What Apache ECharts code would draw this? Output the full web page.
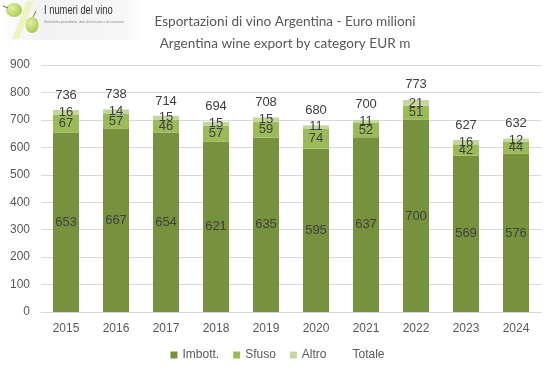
<!DOCTYPE html>
<html><head><meta charset="utf-8">
<script src="https://cdn.jsdelivr.net/npm/echarts@6/dist/echarts.min.js"></script>
<style>html,body{margin:0;padding:0;background:#fff}#c{width:555px;height:378px}</style>
</head><body><div id="c"></div>
<script>
const categories = ['2015','2016','2017','2018','2019','2020','2021','2022','2023','2024'];
const imbott = [653,667,654,621,635,595,637,700,569,576];
const sfuso  = [67,57,46,57,59,74,52,51,42,44];
const altro  = [16,14,15,15,15,11,11,21,16,12];
const totale = [736,738,714,694,708,680,700,773,627,632];
const yTicks = {min:0, max:900, interval:100};

const txt = '#404040', axisTxt = '#595959', font = 'Liberation Sans';
const chart = echarts.init(document.getElementById('c'));
function barSeries(name, data, color){
  return {name, type:'bar', stack:'s', data, barWidth:26, itemStyle:{color},
    label:{show:true, position:'inside', color:txt, fontSize:13, fontFamily:font}};
}
chart.setOption({
  animation:false,
  textStyle:{fontFamily:font},
  title:{text:'Esportazioni di vino Argentina - Euro milioni\nArgentina wine export by category EUR m',
    left:280, textAlign:'center', top:6,
    textStyle:{fontSize:13.6, fontWeight:'normal', color:axisTxt, fontFamily:'Lato', lineHeight:22}},
  legend:{bottom:12, left:'center', itemWidth:7, itemHeight:7, itemGap:14,
    textStyle:{color:axisTxt, fontSize:12, fontFamily:font},
    data:[{name:'Imbott.', icon:'rect'},{name:'Sfuso', icon:'rect'},{name:'Altro', icon:'rect'},{name:'Totale', icon:'none'}]},
  grid:{left:41, right:14, top:65, bottom:66},
  xAxis:{type:'category', data:categories, axisTick:{show:false},
    axisLine:{lineStyle:{color:'#d9d9d9'}},
    axisLabel:{color:axisTxt, fontSize:12, margin:11}},
  yAxis:{type:'value', min:yTicks.min, max:yTicks.max, interval:yTicks.interval,
    axisLabel:{color:axisTxt, fontSize:12, margin:11},
    splitLine:{lineStyle:{color:'#d9d9d9'}}},
  series:[
    barSeries('Imbott.', imbott, '#76923C'),
    barSeries('Sfuso', sfuso, '#9BBB59'),
    barSeries('Altro', altro, '#C3D69B'),
    {name:'Totale', type:'line', data:totale, symbol:'circle', symbolSize:1,
     itemStyle:{color:'rgba(0,0,0,0)'}, lineStyle:{width:0, color:'rgba(0,0,0,0)'},
     label:{show:true, position:'top', distance:8, color:txt, fontSize:13, fontFamily:font}}
  ],
  graphic:[
    {type:'rect', shape:{x:0,y:0,width:140,height:40}, style:{fill:new echarts.graphic.LinearGradient(0,0,1,0,[{offset:0,color:'#ffffff'},{offset:0.3,color:'#f2f2f2'},{offset:0.9,color:'#f7f7f7'},{offset:1,color:'#ffffff'}])}, z:0},
    {type:'polygon', shape:{points:[[27,1],[34,1],[19,39],[12,39]]}, style:{fill:'#eef3c4'}, z:1},
    {type:'ellipse', shape:{cx:14,cy:10,rx:8,ry:7}, style:{fill:new echarts.graphic.RadialGradient(0.35,0.35,0.8,[{offset:0,color:'#e4f0a8'},{offset:1,color:'#a9c84e'}])}, z:2},
    {type:'ellipse', shape:{cx:32,cy:25,rx:6.5,ry:8}, style:{fill:new echarts.graphic.RadialGradient(0.35,0.35,0.8,[{offset:0,color:'#e4f0a8'},{offset:1,color:'#a9c84e'}])}, z:2},
    {type:'line', shape:{x1:3,y1:6,x2:8,y2:8}, style:{stroke:'#8a6a3a', lineWidth:1}, z:2},
    {type:'line', shape:{x1:33,y1:17,x2:36,y2:11}, style:{stroke:'#8a6a3a', lineWidth:1}, z:2},
    {type:'text', x:44, y:5, scaleX:0.78, style:{text:'I numeri del vino', fill:'#333', fontSize:12, fontFamily:font}, z:3},
    {type:'text', x:44, y:20, style:{text:'Statistiche periodiche, dati di mercato e di consumo', fill:'#888', fontSize:3.5, fontFamily:font}, z:3}
  ]
});
</script></body></html>
